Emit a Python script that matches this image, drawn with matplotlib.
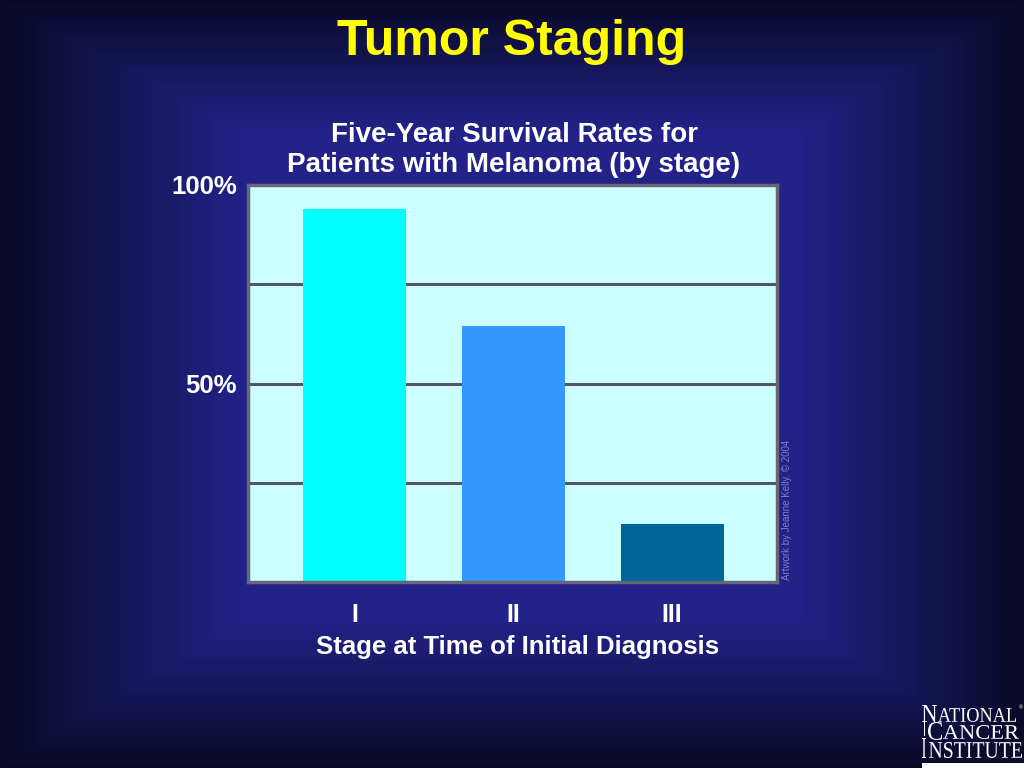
import numpy as np
import matplotlib
matplotlib.use("Agg")
import matplotlib.pyplot as plt
from matplotlib.textpath import TextPath
from matplotlib.font_manager import FontProperties
from matplotlib.patches import PathPatch, Rectangle
from matplotlib.transforms import Affine2D

# Data
stages = ["I", "II", "III"]
survival = [94, 64.5, 14.5]
bar_colors = ["#00ffff", "#3399ff", "#006699"]
ytick_vals = [50, 100]
ytick_labels = ["50%", "100%"]
grid_vals = [25, 50, 75]

plt.rcParams['font.family'] = ['Liberation Sans', 'DejaVu Sans']

W, H = 1024, 768
fig = plt.figure(figsize=(W / 100, H / 100), dpi=100)

# Background: rectangular glow, dark toward the edges
bg = fig.add_axes([0, 0, 1, 1])
yy, xx = np.mgrid[0:H, 0:W].astype(float)
tl = np.clip((240 - xx) / 240, 0, 1)
tr = np.clip((xx - 800) / 224, 0, 1)
tt = np.clip((130 - yy) / 130, 0, 1)
tb = np.clip((yy - 620) / 148, 0, 1)
t = np.maximum.reduce([tl, tr, tt, tb])
inner = np.array([34, 34, 136]) / 255.0
outer = np.array([9, 9, 38]) / 255.0
img = inner[None, None, :] * (1 - t[..., None]) + outer[None, None, :] * t[..., None]
bg.imshow(img, aspect="auto", extent=[0, 1, 0, 1], interpolation="bilinear")
bg.set_axis_off()

# Chart
ax = fig.add_axes([248 / W, 1 - 582 / H, 529 / W, 397 / H])
ax.set_facecolor("#ccffff")
x = np.arange(len(stages))
for g in grid_vals:
    ax.axhline(g, color="#555566", linewidth=2.2, zorder=1)
ax.bar(x, survival, width=0.65, color=bar_colors, zorder=2)
ax.set_xlim(-0.67, 2.66)
ax.set_ylim(0, 100)
for s in ax.spines.values():
    s.set_color("#666677")
    s.set_linewidth(2.5)
ax.set_yticks(ytick_vals)
ax.set_yticklabels(ytick_labels, color="white", fontsize=18.5, fontweight="bold")
ax.set_xticks(x)
ax.set_xticklabels(stages, color="white", fontsize=18, fontweight="bold")
ax.tick_params(axis="both", length=0)
ax.tick_params(axis="y", pad=8)
ax.tick_params(axis="x", pad=15)

ax.set_xlabel("Stage at Time of Initial Diagnosis", color="white",
              fontsize=18.5, fontweight="bold")
ax.xaxis.set_label_coords((518 - 248) / 529, -(635 - 582) / 397)

# Titles
fig.text(0.5, 1 - 42 / H, "Tumor Staging", color="#ffff00", fontsize=36,
         fontweight="bold", ha="center", va="center")
fig.text(0.502, 1 - 150 / H, "Five-Year Survival Rates for\nPatients with Melanoma (by stage)",
         color="white", fontsize=20, fontweight="bold", ha="center", va="center",
         linespacing=1.2)

# Watermark
fig.text(787 / W, 1 - 580 / H, "Artwork by Jeanne Kelly. \u00a9 2004", color="#8080c4",
         fontsize=7, rotation=90, ha="center", va="bottom")

# Logo (thin condensed serif letters)
serif = FontProperties(family=["Liberation Serif", "DejaVu Serif"], weight="normal")


def logo_text(s, x0, x1, base, cap):
    tp = TextPath((0, 0), s, size=100, prop=serif)
    ext = tp.get_extents()
    sx = (x1 - x0) / ext.width
    sy = cap / ext.height
    trans = (Affine2D().translate(-ext.x0, -ext.y0).scale(sx, sy)
             .translate(x0, H - base).scale(1 / W, 1 / H) + fig.transFigure)
    fig.add_artist(PathPatch(tp, transform=trans, facecolor="white", lw=0))


logo_text("N", 922, 937, 722, 17)
logo_text("ATIONAL", 938, 1016, 722, 14)
logo_text("C", 928, 942, 740, 18)
logo_text("ANCER", 943, 1019, 739, 14)
logo_text("I", 922, 926, 758, 20)
logo_text("NSTITUTE", 929, 1022, 758, 16)
fig.add_artist(Rectangle((923.5 / W, 1 - 736 / H), 1.2 / W, 18 / H, transform=fig.transFigure,
                         facecolor="white", lw=0))
fig.text(1019 / W, 1 - 708 / H, "\u00ae", color="white", fontsize=4, ha="left", va="center")
fig.add_artist(Rectangle((922 / W, 0), (W - 922) / W, 5 / H, transform=fig.transFigure,
                         facecolor="white", lw=0))

fig.savefig("out.png", dpi=100)
